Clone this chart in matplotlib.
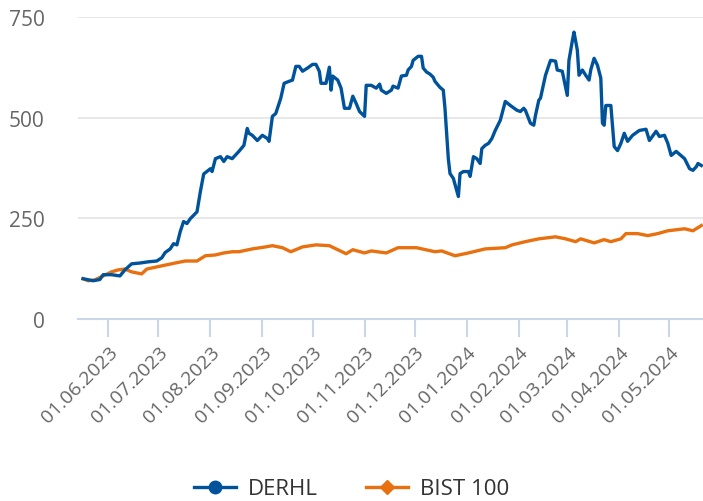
import pandas as pd
import matplotlib
matplotlib.use('Agg')
import matplotlib.pyplot as plt
from matplotlib.lines import Line2D

plt.rcParams['font.family'] = ['Open Sans', 'DejaVu Sans']

derhl_dates = [
    '2023-05-17', '2023-05-23', '2023-05-27', '2023-05-29', '2023-06-03', '2023-06-08',
    '2023-06-11', '2023-06-15', '2023-06-20', '2023-06-25', '2023-06-30', '2023-07-03',
    '2023-07-05', '2023-07-08', '2023-07-10', '2023-07-12', '2023-07-14', '2023-07-16',
    '2023-07-18', '2023-07-20', '2023-07-24', '2023-07-26', '2023-07-28', '2023-08-01',
    '2023-08-02', '2023-08-04', '2023-08-07', '2023-08-09', '2023-08-11', '2023-08-14',
    '2023-08-18', '2023-08-21', '2023-08-23', '2023-08-24', '2023-08-26', '2023-08-29',
    '2023-09-01', '2023-09-04', '2023-09-05', '2023-09-07', '2023-09-09', '2023-09-12',
    '2023-09-14', '2023-09-17', '2023-09-19', '2023-09-21', '2023-09-23', '2023-09-25',
    '2023-09-28', '2023-10-01', '2023-10-03', '2023-10-05', '2023-10-06', '2023-10-09',
    '2023-10-11', '2023-10-12', '2023-10-13', '2023-10-16', '2023-10-18', '2023-10-20',
    '2023-10-23', '2023-10-25', '2023-10-27', '2023-10-29', '2023-11-01', '2023-11-02',
    '2023-11-05', '2023-11-08', '2023-11-10', '2023-11-11', '2023-11-14', '2023-11-17',
    '2023-11-18', '2023-11-21', '2023-11-23', '2023-11-26', '2023-11-27', '2023-11-29',
    '2023-11-30', '2023-12-03', '2023-12-05', '2023-12-06', '2023-12-08', '2023-12-10',
    '2023-12-12', '2023-12-13', '2023-12-15', '2023-12-16', '2023-12-18', '2023-12-19',
    '2023-12-21', '2023-12-22', '2023-12-24', '2023-12-27', '2023-12-28', '2023-12-30',
    '2024-01-02', '2024-01-03', '2024-01-05', '2024-01-07', '2024-01-09', '2024-01-10',
    '2024-01-12', '2024-01-14', '2024-01-16', '2024-01-18', '2024-01-21', '2024-01-24',
    '2024-01-27', '2024-01-31', '2024-02-02', '2024-02-04', '2024-02-05', '2024-02-08',
    '2024-02-10', '2024-02-11', '2024-02-13', '2024-02-14', '2024-02-17', '2024-02-19',
    '2024-02-20', '2024-02-23', '2024-02-24', '2024-02-27', '2024-03-01', '2024-03-02',
    '2024-03-04', '2024-03-05', '2024-03-07', '2024-03-08', '2024-03-10', '2024-03-12',
    '2024-03-14', '2024-03-15', '2024-03-17', '2024-03-19', '2024-03-21', '2024-03-22',
    '2024-03-23', '2024-03-24', '2024-03-27', '2024-03-29', '2024-03-31', '2024-04-02',
    '2024-04-04', '2024-04-06', '2024-04-09', '2024-04-13', '2024-04-17', '2024-04-19',
    '2024-04-23', '2024-04-25', '2024-04-28', '2024-04-30', '2024-05-02', '2024-05-05',
    '2024-05-10', '2024-05-13', '2024-05-15', '2024-05-17', '2024-05-18', '2024-05-20',
]
derhl_values = [
    100, 95, 98, 110, 110, 107,
    122, 137, 139, 142, 144, 152,
    165, 174, 187, 184, 217, 242,
    237, 249, 266, 316, 360, 373,
    366, 398, 403, 391, 403, 398,
    416, 431, 473, 461, 456, 443,
    456, 448, 441, 503, 510, 548,
    585, 590, 593, 627, 627, 615,
    623, 632, 632, 615, 585, 585,
    625, 568, 603, 593, 573, 523,
    523, 553, 535, 515, 503, 580,
    580, 573, 583, 568, 560, 568,
    578, 573, 603, 605, 618, 627,
    642, 652, 652, 623, 613, 608,
    600, 590, 580, 575, 568, 523,
    398, 361, 349, 304, 361, 366,
    366, 354, 403, 398, 386, 423,
    431, 436, 448, 468, 493, 540,
    530, 518, 515, 523, 518, 486,
    481, 505, 543, 548, 605, 630,
    642, 640, 618, 615, 555, 642,
    690, 712, 667, 605, 618, 605,
    593, 618, 647, 630, 598, 486,
    481, 530, 530, 428, 418, 436,
    461, 441, 456, 468, 471, 443,
    466, 453, 456, 436, 406, 416,
    398, 373, 369, 378, 386, 381,
]

bist_dates = [
    '2023-05-17', '2023-05-20', '2023-05-24', '2023-05-29', '2023-06-03', '2023-06-07',
    '2023-06-11', '2023-06-15', '2023-06-21', '2023-06-24', '2023-07-03', '2023-07-11',
    '2023-07-17', '2023-07-24', '2023-07-29', '2023-08-04', '2023-08-09', '2023-08-14',
    '2023-08-18', '2023-08-26', '2023-09-03', '2023-09-07', '2023-09-13', '2023-09-18',
    '2023-09-25', '2023-10-03', '2023-10-11', '2023-10-15', '2023-10-21', '2023-10-25',
    '2023-11-01', '2023-11-05', '2023-11-14', '2023-11-21', '2023-12-02', '2023-12-13',
    '2023-12-17', '2023-12-25', '2024-01-02', '2024-01-12', '2024-01-24', '2024-01-28',
    '2024-02-05', '2024-02-13', '2024-02-23', '2024-02-29', '2024-03-06', '2024-03-09',
    '2024-03-17', '2024-03-23', '2024-03-27', '2024-04-02', '2024-04-05', '2024-04-12',
    '2024-04-18', '2024-04-24', '2024-04-30', '2024-05-10', '2024-05-15', '2024-05-20',
]
bist_values = [
    100, 95, 97, 107, 117, 122,
    124, 117, 112, 124, 132, 139,
    144, 144, 157, 159, 164, 167,
    167, 174, 179, 182, 177, 167,
    179, 184, 182, 174, 162, 172,
    164, 169, 164, 177, 177, 167,
    169, 157, 164, 174, 177, 184,
    192, 199, 204, 199, 192, 199,
    189, 197, 192, 199, 212, 212,
    207, 212, 219, 224, 219, 232,
]

tick_dates = pd.date_range('2023-06-01', '2024-05-01', freq='MS')
tick_labels = [d.strftime('%d.%m.%Y') for d in tick_dates]
y_ticks = [0, 250, 500, 750]

blue = '#00539b'
orange = '#e8700e'
label_grey = '#666666'

fig = plt.figure(figsize=(7.03, 5.02), dpi=100)
ax = fig.add_axes([0.111, 0.3625, 0.889, 0.602])

ax.plot(pd.to_datetime(derhl_dates), derhl_values, color=blue, lw=2.4, solid_joinstyle='round', zorder=3)
ax.plot(pd.to_datetime(bist_dates), bist_values, color=orange, lw=2.4, solid_joinstyle='round', zorder=2)

ax.set_xlim(pd.Timestamp('2023-05-14'), pd.Timestamp('2024-05-21'))
ax.set_ylim(0, 750)
ax.set_yticks(y_ticks)
ax.set_yticklabels([str(v) for v in y_ticks])
ax.set_xticks(tick_dates)
ax.set_xticklabels(tick_labels, rotation=45, ha='right', va='top', rotation_mode='anchor')

ax.grid(axis='y', color='#e6e6e6', lw=1.3)
ax.set_axisbelow(True)
for side in ['top', 'right', 'left']:
    ax.spines[side].set_visible(False)
ax.spines['bottom'].set_color('#ccd6eb')
ax.spines['bottom'].set_linewidth(1.5)

ax.tick_params(axis='y', length=0, pad=24, labelsize=15, labelcolor=label_grey)
ax.tick_params(axis='x', length=13, width=1.5, color='#ccd6eb', pad=4, labelsize=14, labelcolor=label_grey)

handles = [
    Line2D([], [], color=blue, lw=2.4, marker='o', markersize=9),
    Line2D([], [], color=orange, lw=2.4, marker='D', markersize=7),
]
fig.legend(handles, ['DERHL', 'BIST 100'], loc='center', bbox_to_anchor=(0.5, 0.024),
           ncol=2, frameon=False, fontsize=16, labelcolor='#333333',
           handlelength=1.9, columnspacing=2.2, handletextpad=0.5)

fig.savefig('out.png', dpi=100)
